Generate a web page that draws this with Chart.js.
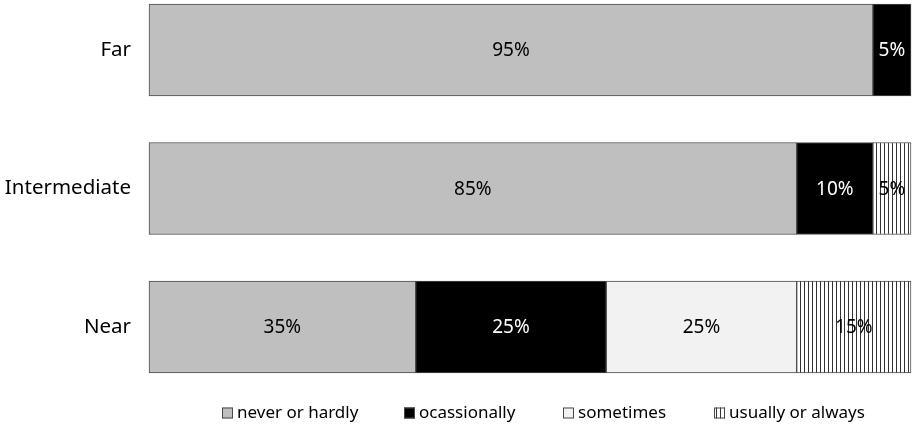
<!DOCTYPE html>
<html>
<head>
<meta charset="utf-8">
<script src="https://cdn.jsdelivr.net/npm/chart.js@4.4.0/dist/chart.umd.min.js"></script>
<style>
html,body{margin:0;padding:0;background:#fff;}
#wrap{width:919px;height:432px;position:relative;}
</style>
</head>
<body>
<div id="wrap"><canvas id="c" width="919" height="432"></canvas></div>
<script>
const categories = ['Far', 'Intermediate', 'Near'];
const seriesNames = ['never or hardly', 'ocassionally', 'sometimes', 'usually or always'];
const neverOrHardly = [95, 85, 35];
const ocassionally = [5, 10, 25];
const sometimes = [0, 0, 25];
const usuallyOrAlways = [0, 5, 15];

const FONT = "'Noto Sans', 'Open Sans', sans-serif";

function makePattern() {
  const p = document.createElement('canvas');
  p.width = 4; p.height = 4;
  const g = p.getContext('2d');
  g.fillStyle = '#ffffff';
  g.fillRect(0, 0, 4, 4);
  g.fillStyle = '#333333';
  g.fillRect(0, 0, 1, 4);
  return g.createPattern(p, 'repeat');
}
const stripe = makePattern();

const fills = ['#bfbfbf', '#000000', '#f2f2f2', stripe];
const labelColors = ['#000', '#fff', '#000', '#000'];
const values = [neverOrHardly, ocassionally, sometimes, usuallyOrAlways];

const datasets = values.map((v, i) => ({
  label: seriesNames[i],
  data: v,
  backgroundColor: fills[i],
  borderColor: '#4a4a4a',
  borderWidth: 1,
  borderSkipped: false,
  barThickness: 92,
  clip: false
}));

const labelPlugin = {
  id: 'valueLabels',
  afterDatasetsDraw(chart) {
    const ctx = chart.ctx;
    ctx.save();
    ctx.font = '19px ' + FONT;
    ctx.textAlign = 'center';
    ctx.textBaseline = 'middle';
    chart.data.datasets.forEach((ds, di) => {
      const meta = chart.getDatasetMeta(di);
      meta.data.forEach((el, i) => {
        const v = ds.data[i];
        if (!v) return;
        const cx = (el.x + el.base) / 2;
        ctx.fillStyle = labelColors[di];
        ctx.fillText(v + '%', cx, el.y + 1);
      });
    });
    ctx.restore();
  }
};

const legendPlugin = {
  id: 'customLegend',
  afterDraw(chart) {
    const ctx = chart.ctx;
    const boxX = [222, 404, 563, 714];
    const y = 413;
    ctx.save();
    ctx.font = '17px ' + FONT;
    ctx.textBaseline = 'middle';
    ctx.textAlign = 'left';
    seriesNames.forEach((name, i) => {
      const x = boxX[i];
      ctx.fillStyle = fills[i];
      ctx.fillRect(x, y - 5.5, 11, 11);
      ctx.strokeStyle = '#4a4a4a';
      ctx.lineWidth = 1;
      ctx.strokeRect(x + 0.5, y - 5, 10, 10);
      ctx.fillStyle = '#000';
      ctx.fillText(name, x + 15, y);
    });
    ctx.restore();
  }
};

new Chart(document.getElementById('c'), {
  type: 'bar',
  data: { labels: categories, datasets },
  options: {
    indexAxis: 'y',
    responsive: false,
    animation: false,
    layout: { padding: { top: 50, bottom: 105, left: 0, right: 8 } },
    plugins: { legend: { display: false }, tooltip: { enabled: false } },
    scales: {
      x: { stacked: true, min: 0, max: 100, display: false },
      y: {
        stacked: true,
        offset: false,
        grid: { display: false, drawTicks: false },
        border: { display: false },
        ticks: { font: { size: 20.5, family: FONT }, color: '#000', padding: 18 },
        afterFit(scale) { scale.width = 149; }
      }
    }
  },
  plugins: [labelPlugin, legendPlugin]
});
</script>
</body>
</html>
